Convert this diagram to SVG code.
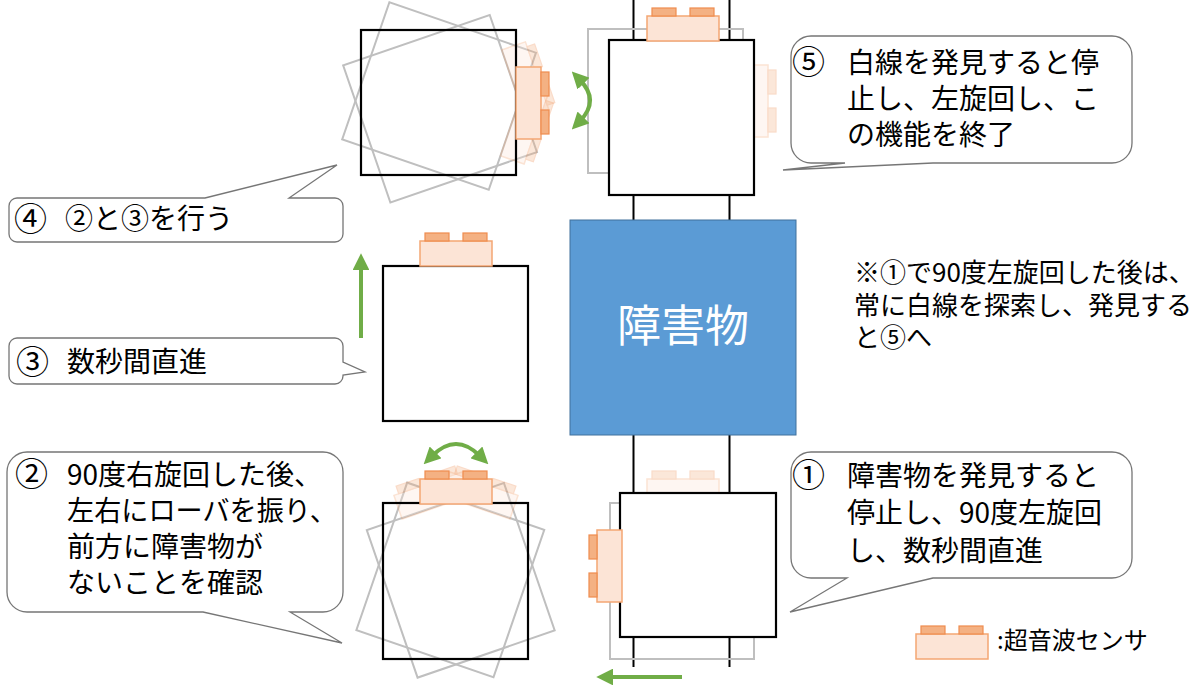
<svg xmlns="http://www.w3.org/2000/svg" xmlns:xlink="http://www.w3.org/1999/xlink" width="1200" height="694" viewBox="0 0 1200 694">
<style>
.rb{fill:none;stroke:#000;stroke-width:2.2}
.rw{fill:#fff;stroke:#000;stroke-width:2.2}
.gh{fill:none;stroke:#bfbfbf;stroke-width:2}
.sb{fill:#fce4d6;stroke:#f4a673;stroke-width:1.5}
.bp{fill:#f4b183;stroke:#ef8c4f;stroke-width:1.2}
.faint{opacity:.3}
.trk{stroke:#000;stroke-width:2}
.arr{fill:none;stroke:#70ad47;stroke-width:4}
.co{fill:#fff;stroke:#767676;stroke-width:1.3}
.t{font-family:"Noto Sans CJK JP","Noto Sans",sans-serif;font-size:28px;fill:#000}
.n{font-size:26px}
.c{font-size:33px}
</style>
<defs>
<g id="sU">
<rect class="sb" x="0" y="0" width="72" height="25"/>
<rect class="bp" x="5" y="-8" width="24" height="8"/>
<rect class="bp" x="43" y="-8" width="24" height="8"/>
</g>
<marker id="ah" viewBox="0 0 10 10" refX="3" refY="5" markerWidth="4.2" markerHeight="4.2" orient="auto-start-reverse">
<path d="M0,0 L10,5 L0,10 Z" fill="#70ad47"/>
</marker>
</defs>

<g id="track">
<line class="trk" x1="633.5" y1="0" x2="633.5" y2="221"/>
<line class="trk" x1="729.5" y1="0" x2="729.5" y2="221"/>
<line class="trk" x1="633.5" y1="434" x2="633.5" y2="667"/>
<line class="trk" x1="729.5" y1="434" x2="729.5" y2="667"/>
</g>

<g id="obstacle">
<rect x="570" y="220" width="226" height="215" fill="#5b9bd5" stroke="#41719c" stroke-width="1"/>
<text class="t" x="683" y="342" text-anchor="middle" style="font-size:44px;fill:#fff">障害物</text>
</g>

<g id="robot-5-left">
<rect class="gh" x="361" y="30" width="155" height="145" transform="rotate(-19 458 101)"/>
<rect class="gh" x="361" y="30" width="155" height="145" transform="rotate(19 458 101)"/>
<use href="#sU" class="faint" transform="rotate(-19 458 101) translate(541 67) rotate(90)"/>
<use href="#sU" class="faint" transform="rotate(19 458 101) translate(541 67) rotate(90)"/>
<rect class="rb" x="361" y="30" width="155" height="145"/>
<use href="#sU" transform="translate(541 67) rotate(90)"/>
</g>

<g id="robot-5-top">
<rect class="gh" x="588" y="29" width="155" height="144"/>
<use href="#sU" class="faint" transform="translate(768 65) rotate(90)"/>
<rect class="rw" x="609" y="40" width="145" height="155"/>
<use href="#sU" transform="translate(647 16)"/>
</g>

<g id="robot-3">
<rect class="rw" x="383" y="266" width="145" height="155"/>
<use href="#sU" transform="translate(420 241)"/>
</g>

<g id="robot-2">
<rect class="gh" x="383" y="503" width="145" height="156" transform="rotate(-19 456 565)"/>
<rect class="gh" x="383" y="503" width="145" height="156" transform="rotate(19 456 565)"/>
<use href="#sU" class="faint" transform="rotate(-19 456 565) translate(420 479)"/>
<use href="#sU" class="faint" transform="rotate(19 456 565) translate(420 479)"/>
<rect class="rb" x="383" y="503" width="145" height="156"/>
<use href="#sU" transform="translate(420 479)"/>
</g>

<g id="robot-1">
<rect class="gh" x="610" y="503" width="144" height="156"/>
<use href="#sU" class="faint" transform="translate(647 479)"/>
<rect class="rw" x="620" y="493" width="156" height="144"/>
<use href="#sU" transform="translate(597 602) rotate(-90)"/>
</g>

<g id="connectors">
<path class="arr" d="M580,80 Q600,100.5 580,121" marker-start="url(#ah)" marker-end="url(#ah)"/>
<path class="arr" d="M432,456 Q456,432 480,456" marker-start="url(#ah)" marker-end="url(#ah)"/>
<path class="arr" d="M361,338 V265" marker-end="url(#ah)"/>
<path class="arr" d="M682,677 H608" marker-end="url(#ah)"/>
</g>

<g id="callout-5">
<path class="co" d="M811,36 H1112 A20,20 0 0 1 1132,56 V143 A20,20 0 0 1 1112,163 H933 L783,170 L845,163 H811 A20,20 0 0 1 791,143 V56 A20,20 0 0 1 811,36 Z"/>
<text class="t c" x="792" y="74">⑤</text>
<text class="t" x="847" y="72.5">白線を発見すると停</text>
<text class="t" x="847" y="108.5">止し、左旋回し、こ</text>
<text class="t" x="847" y="144.5">の機能を終了</text>
</g>

<g id="callout-4">
<path class="co" d="M17,198 H205 L337,165 L289,198 H335 A8,8 0 0 1 343,206 V234 A8,8 0 0 1 335,242 H17 A8,8 0 0 1 9,234 V206 A8,8 0 0 1 17,198 Z"/>
<text class="t c" x="14" y="230.5">④</text>
<text class="t" x="65" y="229">②と③を行う</text>
</g>

<g id="callout-3">
<path class="co" d="M17,338 H335 A8,8 0 0 1 343,346 V362 L365,372 L343,375 V376 A8,8 0 0 1 335,384 H17 A8,8 0 0 1 9,376 V346 A8,8 0 0 1 17,338 Z"/>
<text class="t c" x="16" y="373.5">③</text>
<text class="t" x="67" y="372">数秒間直進</text>
</g>

<g id="callout-2">
<path class="co" d="M27,452 H323 A20,20 0 0 1 343,472 V592 A20,20 0 0 1 323,612 H290 L342,643 L203,612 H27 A20,20 0 0 1 7,592 V472 A20,20 0 0 1 27,452 Z"/>
<text class="t c" x="15" y="486">②</text>
<text class="t" x="67" y="484.5">90度右旋回した後、</text>
<text class="t" x="67" y="520.5" textLength="270" lengthAdjust="spacingAndGlyphs">左右にローバを振り、</text>
<text class="t" x="67" y="556.5">前方に障害物が</text>
<text class="t" x="67" y="592.5">ないことを確認</text>
</g>

<g id="callout-1">
<path class="co" d="M811,452 H1112 A20,20 0 0 1 1132,472 V558 A20,20 0 0 1 1112,578 H933 L790,612 L847,578 H811 A20,20 0 0 1 791,558 V472 A20,20 0 0 1 811,452 Z"/>
<text class="t c" x="792" y="487">①</text>
<text class="t" x="847" y="485.5">障害物を発見すると</text>
<text class="t" x="847" y="523">停止し、90度左旋回</text>
<text class="t" x="847" y="560.5">し、数秒間直進</text>
</g>

<g id="note">
<text class="t n" x="854" y="282">※①で90度左旋回した後は、</text>
<text class="t n" x="854" y="314.5">常に白線を探索し、発見する</text>
<text class="t n" x="854" y="347">と⑤へ</text>
</g>

<g id="legend">
<use href="#sU" transform="translate(916 634)"/>
<text class="t" x="997" y="649" style="font-size:24px">:超音波センサ</text>
</g>
</svg>
